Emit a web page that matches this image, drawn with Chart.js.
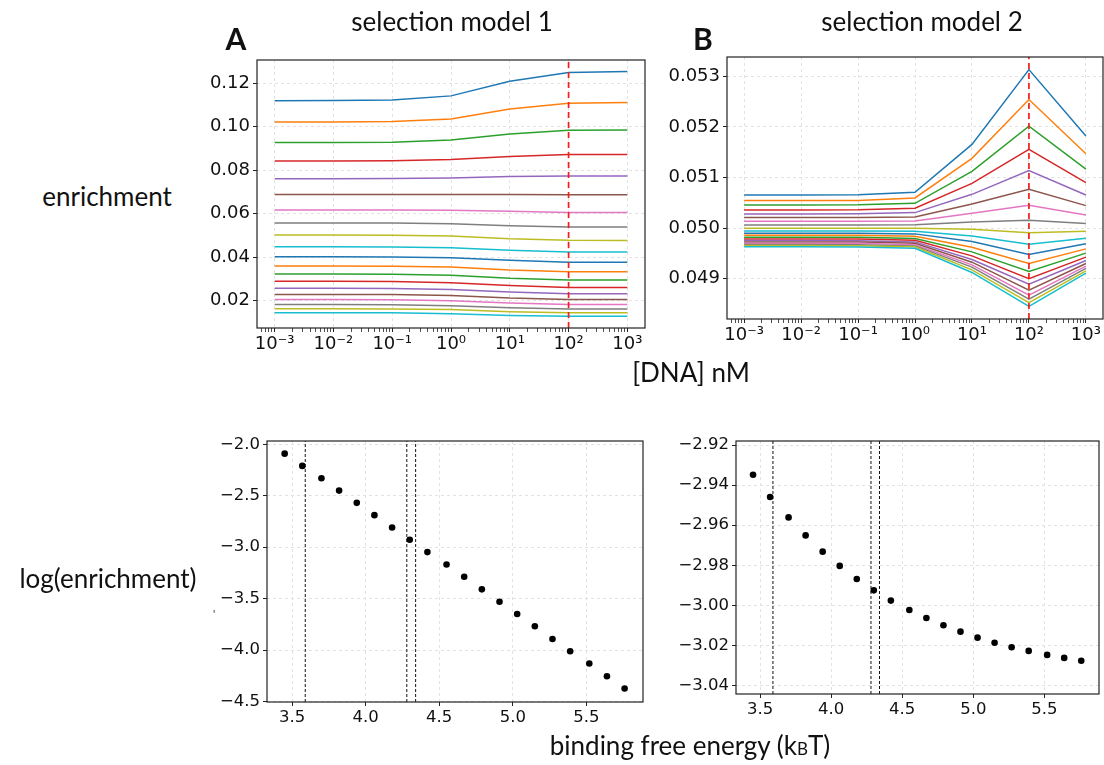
<!DOCTYPE html>
<html>
<head>
<meta charset="utf-8">
<script src="https://cdn.jsdelivr.net/npm/chart.js@4.4.1/dist/chart.umd.min.js"></script>
<style>
  body { margin: 0; background: #fff; }
  #fig { position: relative; width: 1104px; height: 765px; overflow: hidden; background: #fff; }
  canvas { position: absolute; }
  .lbl { position: absolute; font-family: Lato, 'Noto Sans', sans-serif; font-size: 26px; color: #111;
         white-space: nowrap; transform: translate(-50%, -50%); z-index: 5; }
  .panel { font-weight: bold; font-size: 30px; }
  .sub { font-size: 17px; }
  .stray { font-size: 11px; color: #333; }
</style>
</head>
<body>
<div id="fig">
  <canvas id="cA"></canvas>
  <canvas id="cB"></canvas>
  <canvas id="cC"></canvas>
  <canvas id="cD"></canvas>

  <div class="lbl panel" style="left:236px; top:38px;">A</div>
  <div class="lbl" style="left:452px; top:21px;">selection model 1</div>
  <div class="lbl panel" style="left:703px; top:38px;">B</div>
  <div class="lbl" style="left:922px; top:21px;">selection model 2</div>
  <div class="lbl" style="left:107px; top:196px;">enrichment</div>
  <div class="lbl" style="left:691px; top:372px;">[DNA] nM</div>
  <div class="lbl" style="left:108px; top:578px;">log(enrichment)</div>
  <div class="lbl stray" style="left:214px; top:613px;">'</div>
  <div class="lbl" style="left:690px; top:745px;">binding free energy (k<span class="sub">B</span>T)</div>
</div>

<script>
// ---- data ----
const dnaConc = [1e-3, 1e-2, 1e-1, 1, 10, 100, 1000];
const decadeLabels = ['10⁻³', '10⁻²', '10⁻¹', '10⁰', '10¹', '10²', '10³'];
const selectedConc = 100;

// selection model 1: enrichment per sequence vs [DNA]
const enrichModel1 = [
  [0.1120, 0.1121, 0.1123, 0.1142, 0.1209, 0.1249, 0.1254],
  [0.1022, 0.1022, 0.1024, 0.1036, 0.1082, 0.1108, 0.1111],
  [0.0928, 0.0928, 0.0929, 0.0939, 0.0967, 0.0984, 0.0985],
  [0.0843, 0.0843, 0.0844, 0.0849, 0.0863, 0.0872, 0.0872],
  [0.0761, 0.0761, 0.0762, 0.0764, 0.0771, 0.0774, 0.0774],
  [0.0688, 0.0688, 0.0688, 0.0688, 0.0688, 0.0687, 0.0687],
  [0.0617, 0.0617, 0.0617, 0.0616, 0.0611, 0.0606, 0.0606],
  [0.0557, 0.0557, 0.0557, 0.0554, 0.0545, 0.0539, 0.0539],
  [0.0502, 0.0502, 0.0501, 0.0498, 0.0485, 0.0478, 0.0477],
  [0.0448, 0.0448, 0.0447, 0.0444, 0.0432, 0.0424, 0.0424],
  [0.0402, 0.0402, 0.0401, 0.0398, 0.0386, 0.0377, 0.0377],
  [0.0359, 0.0359, 0.0358, 0.0355, 0.0341, 0.0333, 0.0333],
  [0.0323, 0.0323, 0.0322, 0.0317, 0.0303, 0.0295, 0.0295],
  [0.0289, 0.0289, 0.0288, 0.0283, 0.0270, 0.0261, 0.0261],
  [0.0257, 0.0257, 0.0256, 0.0252, 0.0240, 0.0232, 0.0232],
  [0.0229, 0.0229, 0.0228, 0.0224, 0.0212, 0.0206, 0.0206],
  [0.0205, 0.0205, 0.0204, 0.0200, 0.0189, 0.0183, 0.0183],
  [0.0182, 0.0182, 0.0181, 0.0177, 0.0168, 0.0162, 0.0162],
  [0.0163, 0.0163, 0.0162, 0.0159, 0.0149, 0.0144, 0.0144],
  [0.0145, 0.0145, 0.0144, 0.0140, 0.0132, 0.0128, 0.0128]
];

// selection model 2
const enrichModel2 = [
  [0.050655, 0.050655, 0.050660, 0.050708, 0.051654, 0.053131, 0.051818],
  [0.050544, 0.050544, 0.050548, 0.050596, 0.051378, 0.052540, 0.051470],
  [0.050458, 0.050458, 0.050461, 0.050491, 0.051122, 0.052015, 0.051167],
  [0.050360, 0.050360, 0.050362, 0.050392, 0.050885, 0.051555, 0.050898],
  [0.050281, 0.050281, 0.050283, 0.050307, 0.050668, 0.051135, 0.050655],
  [0.050209, 0.050209, 0.050210, 0.050222, 0.050478, 0.050767, 0.050445],
  [0.050136, 0.050136, 0.050137, 0.050143, 0.050294, 0.050452, 0.050261],
  [0.050064, 0.050064, 0.050064, 0.050066, 0.050123, 0.050156, 0.050090],
  [0.050000, 0.050000, 0.050000, 0.049998, 0.049980, 0.049908, 0.049940],
  [0.049946, 0.049946, 0.049946, 0.049940, 0.049847, 0.049683, 0.049801],
  [0.049900, 0.049900, 0.049899, 0.049887, 0.049736, 0.049479, 0.049690],
  [0.049860, 0.049860, 0.049858, 0.049841, 0.049624, 0.049302, 0.049591],
  [0.049821, 0.049821, 0.049819, 0.049795, 0.049532, 0.049145, 0.049507],
  [0.049788, 0.049788, 0.049786, 0.049762, 0.049453, 0.049000, 0.049428],
  [0.049755, 0.049755, 0.049753, 0.049729, 0.049381, 0.048895, 0.049361],
  [0.049729, 0.049729, 0.049727, 0.049703, 0.049328, 0.048777, 0.049302],
  [0.049703, 0.049703, 0.049700, 0.049670, 0.049276, 0.048678, 0.049250],
  [0.049677, 0.049677, 0.049674, 0.049650, 0.049230, 0.048600, 0.049204],
  [0.049657, 0.049657, 0.049654, 0.049631, 0.049177, 0.048527, 0.049158],
  [0.049631, 0.049631, 0.049628, 0.049604, 0.049125, 0.048455, 0.049112]
];

const bindingEnergy = [3.45, 3.57, 3.70, 3.82, 3.94, 4.06, 4.18, 4.30, 4.42, 4.55,
                       4.67, 4.79, 4.91, 5.03, 5.15, 5.27, 5.39, 5.52, 5.64, 5.76];
const logEnrichModel1 = [-2.091, -2.210, -2.330, -2.450, -2.569, -2.689, -2.809, -2.928, -3.048, -3.168,
                         -3.287, -3.410, -3.530, -3.649, -3.769, -3.892, -4.012, -4.131, -4.254, -4.374];
const logEnrichModel2 = [-2.9348, -2.9459, -2.9561, -2.9651, -2.9732, -2.9803, -2.9868, -2.9925, -2.9976, -3.0023,
                         -3.0063, -3.0099, -3.0131, -3.0161, -3.0186, -3.0209, -3.0227, -3.0247, -3.0262, -3.0276];
const cutoffEnergy = [3.59, 4.28, 4.34];

const yTicksA = [0.02, 0.04, 0.06, 0.08, 0.10, 0.12];
const yTicksB = [0.049, 0.050, 0.051, 0.052, 0.053];
const yTicksC = [-4.5, -4.0, -3.5, -3.0, -2.5, -2.0];
const yTicksD = [-3.04, -3.02, -3.00, -2.98, -2.96, -2.94, -2.92];
const xTicksEnergy = [3.5, 4.0, 4.5, 5.0, 5.5];

const rangeA = [0.00744, 0.1307];
const rangeB = [0.048206, 0.05338];
const rangeC = [-4.505, -1.968];
const rangeD = [-3.0442, -2.918];
const rangeConc = [Math.pow(10, -3.3), Math.pow(10, 3.3)];
const rangeEnergy = [3.33, 5.885];

const palette = ['#1f77b4', '#ff7f0e', '#2ca02c', '#d62728', '#9467bd',
                 '#8c564b', '#e377c2', '#7f7f7f', '#bcbd22', '#17becf'];

// ---- layout ----
const AXIS_W = 80, AXIS_H = 40, PAD_T = 14, PAD_R = 22;
const GRID = '#e2e2e2';
const TICK_FONT = 'DejaVu Sans';

function place(id, l, t, w, h) {
  const c = document.getElementById(id);
  c.width = AXIS_W + w + PAD_R;
  c.height = PAD_T + h + AXIS_H;
  c.style.left = (l - AXIS_W) + 'px';
  c.style.top = (t - PAD_T) + 'px';
  return c;
}

const framePlugin = {
  id: 'frame',
  afterDraw(chart) {
    const { ctx, chartArea: a } = chart;
    ctx.save();
    ctx.strokeStyle = '#222';
    ctx.lineWidth = 1.2;
    ctx.strokeRect(a.left, a.top, a.right - a.left, a.bottom - a.top);
    ctx.restore();
  }
};

function logTicks(min, max) {
  const out = [];
  for (let e = -4; e <= 3; e++) {
    for (let m = 1; m <= 9; m++) {
      const v = m * Math.pow(10, e);
      if (v >= min && v <= max) out.push({ value: v, major: m === 1 });
    }
  }
  return out;
}

function concAxis() {
  return {
    type: 'logarithmic', min: rangeConc[0], max: rangeConc[1],
    afterBuildTicks: s => { s.ticks = logTicks(rangeConc[0], rangeConc[1]); },
    afterFit: s => { s.height = AXIS_H; },
    grid: {
      color: c => (c.tick && c.tick.major) ? GRID : 'rgba(0,0,0,0)',
      tickColor: '#222', tickLength: 4,
      tickWidth: c => (c.tick && c.tick.major) ? 1 : 0.8
    },
    border: { display: false, dash: [3, 3] },
    ticks: {
      autoSkip: false, maxRotation: 0, padding: 2, color: '#111',
      font: { family: TICK_FONT, size: 18 },
      callback: (v, i, ticks) => ticks[i].major ? decadeLabels[Math.round(Math.log10(v)) + 3] : ''
    }
  };
}

function valueAxis(range, tickList, fmt, size) {
  return {
    type: 'linear', min: range[0], max: range[1],
    afterBuildTicks: s => { s.ticks = tickList.map(v => ({ value: v })); },
    afterFit: s => { s.width = AXIS_W; },
    grid: { color: GRID, tickColor: '#222', tickLength: 4 },
    border: { display: false, dash: [3, 3] },
    ticks: { padding: 3, color: '#111', font: { family: TICK_FONT, size: size }, callback: fmt }
  };
}

function energyAxis() {
  return {
    type: 'linear', min: rangeEnergy[0], max: rangeEnergy[1],
    afterBuildTicks: s => { s.ticks = xTicksEnergy.map(v => ({ value: v })); },
    afterFit: s => { s.height = AXIS_H; },
    grid: { color: GRID, tickColor: '#222', tickLength: 4 },
    border: { display: false, dash: [3, 3] },
    ticks: { autoSkip: false, maxRotation: 0, padding: 2, color: '#111',
             font: { family: TICK_FONT, size: 16.5 }, callback: v => v.toFixed(1) }
  };
}

const minusFmt = d => v => (v < 0 ? '\u2212' : '') + Math.abs(v).toFixed(d);

const baseOpts = {
  responsive: false, animation: false, devicePixelRatio: 1,
  layout: { padding: { top: PAD_T, right: PAD_R, left: 0, bottom: 0 } },
  plugins: { legend: { display: false }, tooltip: { enabled: false } }
};

function concPanel(id, geom, series, range, yTicks, fmt) {
  const canvas = place(id, geom.l, geom.t, geom.w, geom.h);
  const datasets = series.map((row, i) => ({
    data: row.map((y, j) => ({ x: dnaConc[j], y: y })),
    borderColor: palette[i % palette.length],
    borderWidth: 1.5, pointRadius: 0, tension: 0, fill: false, order: -i
  }));
  datasets.push({
    data: [{ x: selectedConc, y: range[0] }, { x: selectedConc, y: range[1] }],
    borderColor: '#f0201c', borderWidth: 1.7, borderDash: [6, 4],
    pointRadius: 0, fill: false, order: -100
  });
  new Chart(canvas, {
    type: 'line',
    data: { datasets },
    options: Object.assign({}, baseOpts, {
      scales: { x: concAxis(), y: valueAxis(range, yTicks, fmt, 18) }
    }),
    plugins: [framePlugin]
  });
}

function energyPanel(id, geom, values, range, yTicks, decimals) {
  const canvas = place(id, geom.l, geom.t, geom.w, geom.h);
  const datasets = [{
    data: values.map((y, j) => ({ x: bindingEnergy[j], y: y })),
    backgroundColor: '#000', borderWidth: 0, pointRadius: 3.3, order: -10
  }];
  cutoffEnergy.forEach(e => datasets.push({
    data: [{ x: e, y: range[0] }, { x: e, y: range[1] }],
    showLine: true, borderColor: '#111', borderWidth: 1, borderDash: [3, 2],
    pointRadius: 0, fill: false
  }));
  new Chart(canvas, {
    type: 'scatter',
    data: { datasets },
    options: Object.assign({}, baseOpts, {
      scales: { x: energyAxis(), y: valueAxis(range, yTicks, minusFmt(decimals), 16.5) }
    }),
    plugins: [framePlugin]
  });
}

concPanel('cA', { l: 257, t: 60, w: 388, h: 268 }, enrichModel1, rangeA, yTicksA, v => v.toFixed(2));
concPanel('cB', { l: 727, t: 57, w: 376, h: 262 }, enrichModel2, rangeB, yTicksB, v => v.toFixed(3));
energyPanel('cC', { l: 267, t: 441, w: 376, h: 261 }, logEnrichModel1, rangeC, yTicksC, 1);
energyPanel('cD', { l: 736, t: 441, w: 363, h: 253 }, logEnrichModel2, rangeD, yTicksD, 2);
</script>
</body>
</html>
